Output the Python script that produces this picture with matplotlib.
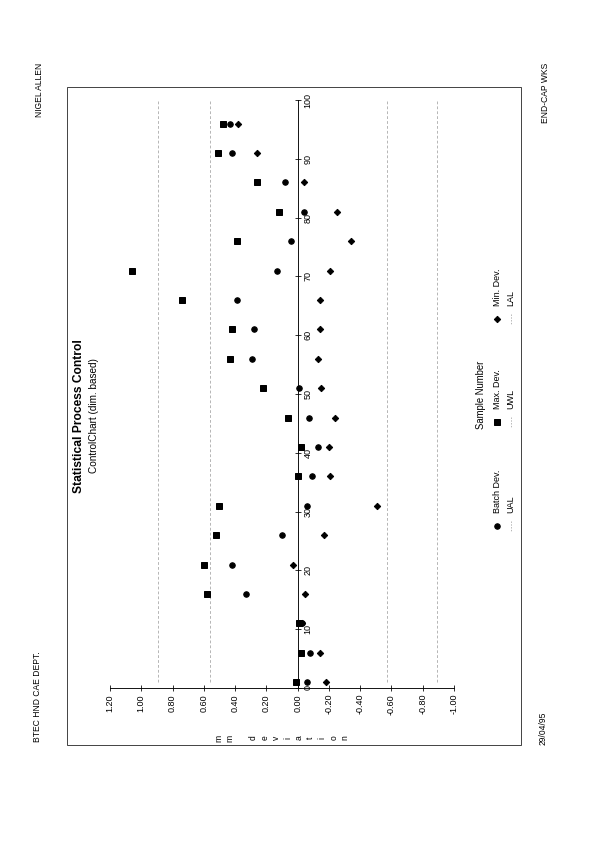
import numpy as np
import matplotlib.pyplot as plt
from matplotlib.patches import Rectangle
from matplotlib.lines import Line2D

plt.rcParams['font.family'] = ['Liberation Sans', 'DejaVu Sans']

# ── data ───────────────────────────────────────────
samples = [1, 6, 11, 16, 21, 26, 31, 36, 41, 46, 51, 56, 61, 66, 71, 76, 81, 86, 91, 96]
batch_dev = [-0.06, -0.08, -0.03, 0.33, 0.42, 0.10, -0.06, -0.09, -0.13, -0.07,
             -0.01, 0.29, 0.28, 0.39, 0.13, 0.04, -0.04, 0.08, 0.42, 0.43]
max_dev = [0.01, -0.02, -0.01, 0.58, 0.60, 0.52, 0.50, 0.00, -0.02, 0.06,
           0.22, 0.43, 0.42, 0.74, 1.06, 0.39, 0.12, 0.26, 0.51, 0.48]
min_dev = [-0.18, -0.14, -0.03, -0.05, 0.03, -0.17, -0.51, -0.21, -0.20, -0.24,
           -0.15, -0.13, -0.14, -0.14, -0.21, -0.34, -0.25, -0.04, 0.26, 0.38]

limit_names = ['UAL', 'UWL', 'LWL', 'LAL']
limit_values = [0.89, 0.56, -0.57, -0.89]
limit_span = [1, 100]

dev_ticks = [1.2, 1.0, 0.8, 0.6, 0.4, 0.2, 0.0, -0.2, -0.4, -0.6, -0.8, -1.0]
sample_ticks = [0, 10, 20, 30, 40, 50, 60, 70, 80, 90, 100]

W, H = 612, 842
fig = plt.figure(figsize=(W / 72, H / 72), dpi=72)


def fx(px):
    return px / W


def fy(py):
    return 1 - py / H


# chart is printed sideways: deviation runs left->right, sample number bottom->top
ax = fig.add_axes([fx(110), fy(688), fx(454) - fx(110), fy(100) - fy(688)])
ax.set_xlim(1.2, -1.0)
ax.set_ylim(0, 100)

for name, val in zip(limit_names, limit_values):
    ax.plot([val, val], limit_span, color='#9a9a9a', lw=0.7,
            linestyle=(0, (4, 3)), zorder=1)

ax.plot(batch_dev, samples, 'o', color='black', ms=5.5, zorder=3)
ax.plot(max_dev, samples, 's', color='black', ms=5.5, zorder=3)
ax.plot(min_dev, samples, 'D', color='black', ms=4.5, zorder=3)

ax.spines['top'].set_visible(False)
ax.spines['left'].set_visible(False)
ax.spines['right'].set_position(('data', 0))
ax.spines['right'].set_linewidth(0.9)
ax.spines['bottom'].set_linewidth(0.9)
ax.yaxis.tick_right()

ax.set_xticks(dev_ticks)
ax.set_xticklabels([f'{v:.2f}' for v in dev_ticks], rotation=90, fontsize=9)
ax.set_yticks(sample_ticks)
ax.set_yticklabels([str(v) for v in sample_ticks], rotation=90, fontsize=9, va='center')
ax.tick_params(axis='both', direction='inout', length=6, width=0.8, pad=3)
ax.set_facecolor('none')

# texts (all rotated with the page)
rot = dict(rotation=90, rotation_mode='anchor')
fig.text(fx(78.5), fy(416), 'Statistical Process Control', fontsize=12,
         fontweight='bold', ha='center', va='center', **rot)
fig.text(fx(94), fy(416), 'ControlChart (dim. based)', fontsize=10,
         ha='center', va='center', **rot)
fig.text(fx(481), fy(395), 'Sample Number', fontsize=9.5, ha='center', va='center', **rot)
fig.text(fx(282), fy(738), 'm\nm\n\nd\ne\nv\ni\na\nt\ni\no\nn', fontsize=8.5,
         ha='center', va='center', multialignment='center', linespacing=1.36, **rot)

fig.text(fx(40), fy(63), 'NIGEL ALLEN', fontsize=8.5, ha='right', va='center', **rot)
fig.text(fx(37), fy(742), 'BTEC HND CAE DEPT.', fontsize=8.5, ha='left', va='center', **rot)
fig.text(fx(545), fy(63), 'END-CAP WKS', fontsize=8.5, ha='right', va='center', **rot)
fig.text(fx(543), fy(745), '29/04/95', fontsize=8.5, ha='left', va='center', **rot)

# legend, laid out by hand because it is rotated
key_y = [526, 422, 319]
row1 = [('o', 5.5, 'Batch Dev.'), ('s', 5.5, 'Max. Dev.'), ('D', 4.5, 'Min. Dev.')]
row2 = ['UAL', 'UWL', 'LAL']
for ky, (mk, ms, label), lname in zip(key_y, row1, row2):
    fig.add_artist(Line2D([fx(497)], [fy(ky)], marker=mk, ms=ms, color='black',
                          transform=fig.transFigure))
    fig.text(fx(497), fy(ky - 13), label, fontsize=9, ha='left', va='center', **rot)
    fig.add_artist(Line2D([fx(511), fx(511)], [fy(ky - 5), fy(ky + 5)], color='#9a9a9a',
                          lw=0.7, linestyle=(0, (2, 2)), transform=fig.transFigure))
    fig.text(fx(511), fy(ky - 13), lname, fontsize=9, ha='left', va='center', **rot)

# outer frame of the printed chart
fig.add_artist(Rectangle((fx(67), fy(745)), fx(521) - fx(67), fy(87) - fy(745),
                         fill=False, ec='#333333', lw=0.9, transform=fig.transFigure))

fig.savefig('out.png', dpi=72)
plt.close('all')
